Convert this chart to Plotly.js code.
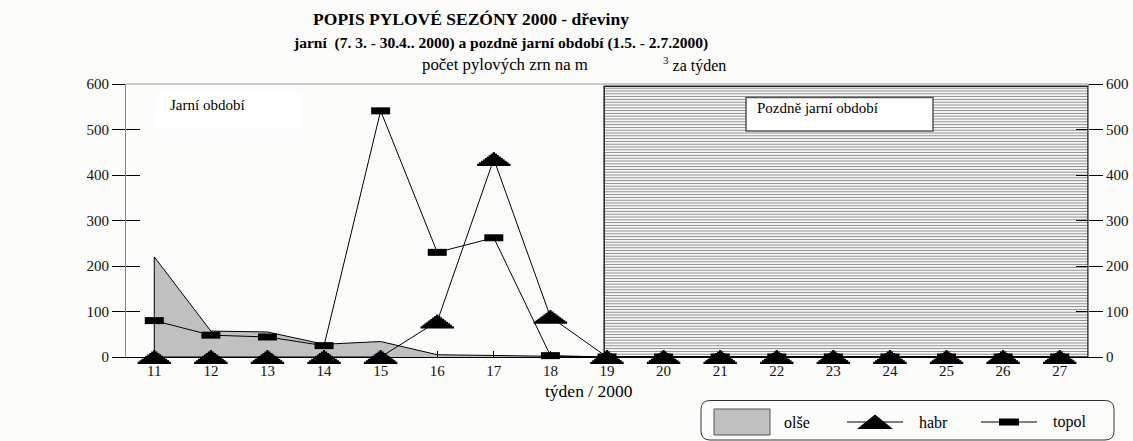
<!DOCTYPE html>
<html>
<head>
<meta charset="utf-8">
<script src="https://cdn.plot.ly/plotly-3.0.1.min.js"></script>
<style>
  html, body { margin: 0; padding: 0; background: #fcfcfb; }
  #chart { width: 1133px; height: 441px; }
</style>
</head>
<body>
<div id="chart"></div>
<script>
// ---------------- data ----------------
const weeks      = [11, 12, 13, 14, 15, 16, 17, 18, 19, 20, 21, 22, 23, 24, 25, 26, 27];
const weekLabels = ['11','12','13','14','15','16','17','18','19','20','21','22','23','24','25','26','27'];
const olse  = [220, 57, 55, 28, 34, 5, 3, 1, 0, 0, 0, 0, 0, 0, 0, 0, 0];
const habr  = [0, 0, 0, 0, 0, 78, 435, 88, 0, 0, 0, 0, 0, 0, 0, 0, 0];
const topol = [80, 48, 44, 25, 541, 230, 262, 3, 0, 0, 0, 0, 0, 0, 0, 0, 0];
const yTicks = [0, 100, 200, 300, 400, 500, 600];
const lateStart = [18.95];
const lateEnd   = [27.5];
const lateTop   = [595];
const seriesNames = ['olše', 'habr', 'topol'];

// ---------------- geometry helpers (layout only) ----------------
const W = 1133, H = 441, PL = 126, PR = 1088, PT = 84, PB = 357;
const px = x => (x - PL) / (PR - PL);
const py = y => (PB - y) / (PB - PT);
const FONT = 'Liberation Serif, Times New Roman, serif';

// flat triangle markers, built from horizontal strips (line-ew markers)
function triangleStrips(xs, ys, width, height, n) {
  const out = [];
  const hs = height / n;
  for (let k = 0; k < n; k++) {
    const dy = -height / 2 + hs * (k + 0.5);       // + = downward (px)
    const w = width * (k + 0.6) / n;
    out.push({
      x: xs, y: ys, type: 'scatter', mode: 'markers', cliponaxis: false,
      hoverinfo: 'skip', showlegend: false,
      marker: {
        symbol: 'line-ew', size: w / 1.4, color: '#000',
        angle: dy < 0 ? 180 : 0, standoff: Math.abs(dy),
        line: { color: '#000', width: hs + 0.8 }
      }
    });
  }
  return out;
}

const traces = [];
// late-spring hatched period
traces.push({
  type: 'bar', x: lateStart.map((s, i) => (s + lateEnd[i]) / 2),
  width: lateStart.map((s, i) => lateEnd[i] - s), y: lateTop, base: 0,
  marker: { color: '#ffffff', line: { color: '#222', width: 1.5 },
            pattern: { shape: '-', fgcolor: '#8a8a8a', bgcolor: '#ffffff', size: 2.8, solidity: 0.38 } },
  hoverinfo: 'skip', showlegend: false
});
// olše area
traces.push({
  name: seriesNames[0], type: 'scatter', mode: 'lines',
  x: [weeks[0]].concat(weeks), y: [0].concat(olse),
  fill: 'tozeroy', fillcolor: '#c0c0c0', line: { color: '#000', width: 1 },
  showlegend: false, hoverinfo: 'skip'
});
// topol
traces.push({
  name: seriesNames[2], type: 'scatter', mode: 'lines+markers', x: weeks, y: topol,
  cliponaxis: false, line: { color: '#000', width: 1 },
  marker: { symbol: 'line-ew', size: 19 / 1.4, color: '#000', line: { color: '#000', width: 7 } },
  showlegend: false, hoverinfo: 'skip'
});
// habr
traces.push({
  name: seriesNames[1], type: 'scatter', mode: 'lines', x: weeks, y: habr,
  line: { color: '#000', width: 1 }, showlegend: false, hoverinfo: 'skip'
});
triangleStrips(weeks, habr, 35, 13, 9).forEach(t => traces.push(t));
// invisible carriers so that the extra (tick-only / right) y axes are drawn
['y2', 'y3', 'y4'].forEach(ax => traces.push({
  type: 'scatter', mode: 'markers', x: [weeks[0]], y: [yTicks[0]], yaxis: ax,
  marker: { opacity: 0, size: 1 }, hoverinfo: 'skip', showlegend: false
}));

// ---------------- layout decorations ----------------
function rectPath(x0, y0, x1, y1) {
  return `M${px(x0)},${py(y0)} L${px(x1)},${py(y0)} L${px(x1)},${py(y1)} L${px(x0)},${py(y1)} Z`;
}
function roundRectPath(x0, y0, x1, y1, r) {
  const P = (x, y) => `${px(x)},${py(y)}`;
  return `M${P(x0 + r, y0)} L${P(x1 - r, y0)} Q${P(x1, y0)} ${P(x1, y0 + r)} L${P(x1, y1 - r)} Q${P(x1, y1)} ${P(x1 - r, y1)} ` +
         `L${P(x0 + r, y1)} Q${P(x0, y1)} ${P(x0, y1 - r)} L${P(x0, y0 + r)} Q${P(x0, y0)} ${P(x0 + r, y0)} Z`;
}
const shapes = [
  { type: 'line', xref: 'paper', yref: 'paper', x0: 0, x1: 1, y0: 1, y1: 1, line: { color: '#9a9a9a', width: 1 } },
  { type: 'path', xref: 'paper', yref: 'paper', path: rectPath(157, 93, 300, 129), fillcolor: '#ffffff', line: { width: 0 } },
  { type: 'path', xref: 'paper', yref: 'paper', path: rectPath(746, 97.5, 933, 131), fillcolor: '#ffffff', line: { color: '#555', width: 1.5 } },
  { type: 'path', xref: 'paper', yref: 'paper', path: roundRectPath(701, 400.5, 1114, 440, 9), fillcolor: 'rgba(0,0,0,0)', line: { color: '#333', width: 1 } },
  { type: 'path', xref: 'paper', yref: 'paper', path: rectPath(714, 409, 770, 435), fillcolor: '#c0c0c0', line: { color: '#555', width: 1 } },
  { type: 'line', xref: 'paper', yref: 'paper', x0: px(847), x1: px(903), y0: py(422), y1: py(422), line: { color: '#000', width: 1 } },
  { type: 'path', xref: 'paper', yref: 'paper', path: `M${px(857)},${py(429)} L${px(893)},${py(429)} L${px(875)},${py(414.5)} Z`, fillcolor: '#000', line: { width: 0 } },
  { type: 'line', xref: 'paper', yref: 'paper', x0: px(981), x1: px(1037), y0: py(422), y1: py(422), line: { color: '#000', width: 1 } },
  { type: 'path', xref: 'paper', yref: 'paper', path: rectPath(999, 418.5, 1019, 425.5), fillcolor: '#000', line: { width: 0 } }
];

const ann = (text, x, y, size, xanchor) => ({
  text, xref: 'paper', yref: 'paper', x: px(x), y: py(y), xanchor: xanchor || 'left', yanchor: 'middle',
  showarrow: false, font: { family: FONT, size: size, color: '#000' }
});

const annotations = [
  ann('<b>jarní  (7. 3. - 30.4.. 2000) a pozdně jarní období (1.5. - 2.7.2000)</b>', 500, 43, 15.5, 'center'),
  ann('počet pylových zrn na m', 420, 64, 16.8, 'left'),
  ann('<sup>3</sup> za týden', 661, 64, 16, 'left'),
  ann('Jarní období', 168, 105, 15, 'left'),
  ann('Pozdně jarní období', 755, 108, 15, 'left'),
  ann('týden / 2000', 589, 391, 17.5, 'center'),
  ann(seriesNames[0], 782, 422, 16, 'left'),
  ann(seriesNames[1], 917, 422, 16, 'left'),
  ann(seriesNames[2], 1051, 422, 16, 'left')
];

const yBase = {
  range: [0, 600], tickvals: yTicks, ticktext: yTicks.map(String), showgrid: false, zeroline: false,
  fixedrange: true, tickcolor: '#000', tickwidth: 1, tickfont: { family: FONT, size: 15, color: '#111' }
};

const layout = {
  width: W, height: H,
  margin: { l: PL, r: W - PR, t: PT, b: H - PB, pad: 0 },
  paper_bgcolor: '#fcfcfb', plot_bgcolor: '#fcfcfb',
  showlegend: false, barmode: 'overlay',
  title: {
    text: '<b>POPIS PYLOVÉ SEZÓNY 2000 - dřeviny</b>',
    font: { family: FONT, size: 17.5, color: '#000' },
    xref: 'container', yref: 'container', x: 471 / W, xanchor: 'center', y: 1 - 19 / H, yanchor: 'middle'
  },
  xaxis: {
    range: [10.5, 27.5], tickvals: weeks, ticktext: weekLabels, showgrid: false, zeroline: false,
    showline: true, linecolor: '#000', linewidth: 1.3, ticks: 'inside', ticklen: 6, tickcolor: '#000',
    tickfont: { family: FONT, size: 15, color: '#111' }, fixedrange: true
  },
  yaxis: Object.assign({}, yBase, { side: 'left', showline: true, linecolor: '#888', linewidth: 1, ticks: 'outside', ticklen: 13 }),
  yaxis2: Object.assign({}, yBase, { side: 'right', overlaying: 'y', anchor: 'x', showline: true, linecolor: '#888', linewidth: 1, ticks: 'outside', ticklen: 14 }),
  yaxis3: Object.assign({}, yBase, { side: 'left', overlaying: 'y', anchor: 'x', showline: false, ticks: 'inside', ticklen: 14, showticklabels: false }),
  yaxis4: Object.assign({}, yBase, { side: 'right', overlaying: 'y', anchor: 'x', showline: false, ticks: 'inside', ticklen: 12, showticklabels: false }),
  shapes, annotations
};

Plotly.newPlot('chart', traces, layout, { staticPlot: true, displayModeBar: false });
</script>
</body>
</html>
